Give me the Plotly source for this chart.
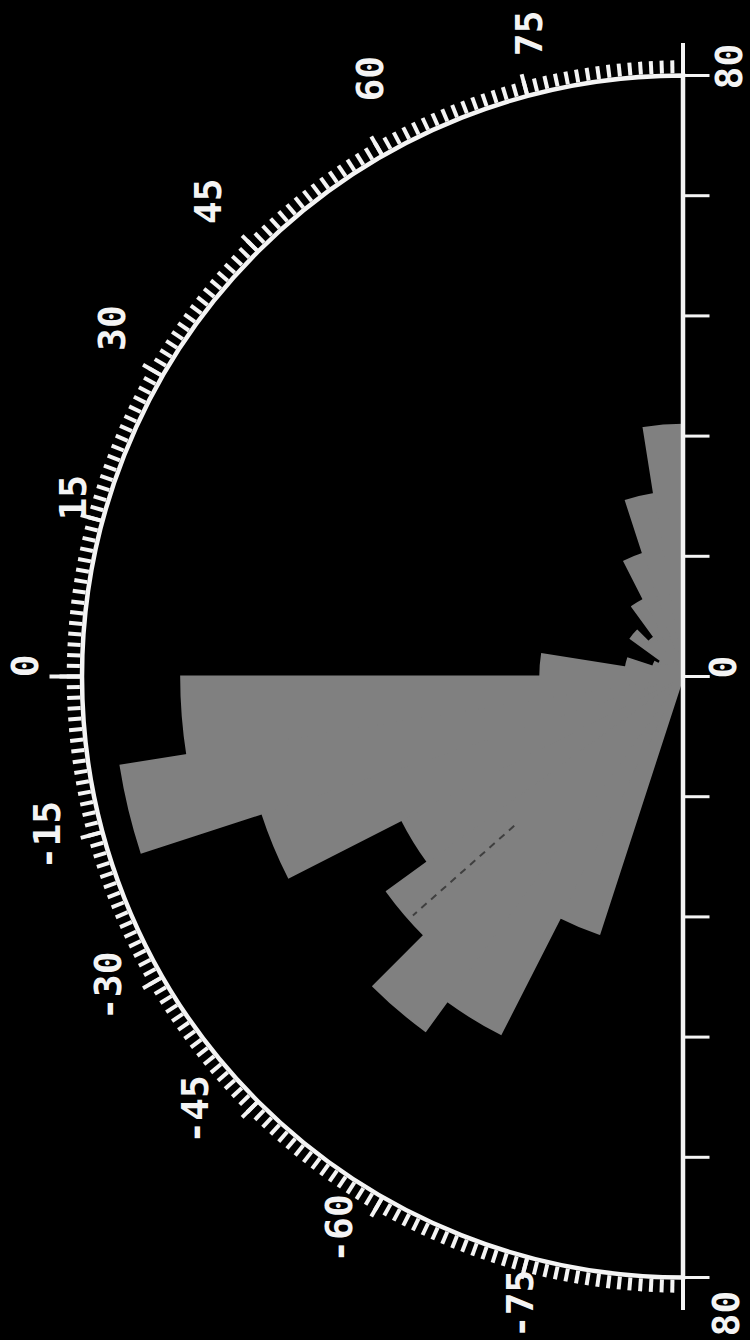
import math
import plotly.graph_objects as go

# ---- data -------------------------------------------------------------
# 9-degree direction bins from -90 to +90 (left edge of each bin)
bin_left = [-90, -81, -72, -63, -54, -45, -36, -27, -18, -9,
            0, 9, 18, 27, 36, 45, 54, 63, 72, 81]
bin_values = [0.0, 0.0, 36.0, 53.4, 58.3, 48.7, 42.0, 58.9, 75.8, 66.8,
              19.0, 7.7, 4.2, 3.6, 8.6, 6.5, 11.5, 17.2, 24.6, 33.5]
bin_width = 9

# mean direction marker (dashed ray inside the rose)
mean_direction = -41.5
mean_r_span = [30.0, 48.0]

# axis ticks
angle_labels = [75, 60, 45, 30, 15, 0, -15, -30, -45, -60, -75]
radial_ticks = [0, 16, 32, 48, 64, 80]
radial_max = 80

# ---- layout geometry & style -----------------------------------------
W, H = 750, 1340
CX, CY = 683.0, 676.5      # pixel centre of the half-rose
RPX = 601.0                # pixel radius of the outer arc
WHITE = "#f4f4f4"
GREY = "#808080"
FONT = dict(family="DejaVu Sans Mono", size=38, color=WHITE, weight=700)

# placement of the angular labels: distance from centre (px) and angle
label_rho = [662, 675, 672, 669, 636, 658, 655, 653, 652, 650, 648]
label_phi = [76.5, 62.4, 45.0, 31.4, 16.3, 0.9, -14.0, -28.3, -41.6, -58.1, -75.4]

dom_x = [(CX - RPX) / W, CX / W]
dom_y = [1 - (CY + RPX) / H, 1 - (CY - RPX) / H]


def to_paper(rho_px, theta_deg):
    """Chart angle (0 = left, positive = up) and pixel radius -> paper coords."""
    a = math.radians(180 - theta_deg)
    x = CX + rho_px * math.cos(a)
    y = CY - rho_px * math.sin(a)
    return x / W, 1 - y / H


theta_centres = [b + bin_width / 2 for b in bin_left]

fig = go.Figure()

fig.add_trace(go.Barpolar(
    r=bin_values, theta=theta_centres, width=[bin_width] * len(bin_values),
    marker=dict(color=GREY, line=dict(color=GREY, width=2)),
    subplot="polar", hoverinfo="skip",
))

fig.add_trace(go.Scatterpolar(
    r=mean_r_span, theta=[mean_direction, mean_direction], mode="lines",
    line=dict(color="#3f3f3f", width=2, dash="7px,6px"),
    subplot="polar", hoverinfo="skip",
))

# invisible anchors so the overlay subplots are rendered
for sp in ("polar2", "polar3"):
    fig.add_trace(go.Scatterpolar(
        r=[0], theta=[0], mode="markers", marker=dict(size=1, opacity=0),
        subplot=sp, hoverinfo="skip",
    ))

base = dict(domain=dict(x=dom_x, y=dom_y), sector=[90, 270],
            bgcolor="rgba(0,0,0,0)")


def ang_axis(step, length, line):
    return dict(rotation=180, direction="clockwise", showgrid=False,
                showline=line, linecolor=WHITE, linewidth=4.5,
                ticks="outside", tickmode="linear", tick0=0, dtick=step,
                ticklen=length, tickwidth=3.5, tickcolor=WHITE,
                showticklabels=False)


def rad_axis(angle, side, visible=True):
    return dict(visible=visible, range=[0, radial_max], angle=angle, side=side,
                showgrid=False, showline=True, linecolor=WHITE, linewidth=3,
                ticks="outside", tickmode="array", tickvals=radial_ticks,
                ticklen=25, tickwidth=3, tickcolor=WHITE,
                showticklabels=False)


fig.update_layout(
    width=W, height=H, margin=dict(l=0, r=0, t=0, b=0),
    paper_bgcolor="black", plot_bgcolor="black", showlegend=False,
    polar=dict(**base, angularaxis=ang_axis(1, 13, True),
               radialaxis=rad_axis(90, "clockwise")),
    polar2=dict(**base, angularaxis=ang_axis(15, 22, False),
                radialaxis=rad_axis(270, "counterclockwise")),
    polar3=dict(**base, angularaxis=ang_axis(90, 32, False),
                radialaxis=rad_axis(90, "clockwise", visible=False)),
)

annotations = []
# angular labels, rotated to read bottom-to-top
for t, rho, phi in zip(angle_labels, label_rho, label_phi):
    px, py = to_paper(rho, phi)
    annotations.append(dict(x=px, y=py, xref="paper", yref="paper",
                            text=str(t), showarrow=False, textangle=-90,
                            xanchor="center", yanchor="middle", font=FONT))

# radial labels: top end, centre, bottom end (offsets in px from the tick)
scale = RPX / radial_max
radial_label_specs = [
    ("80", CX + 46, CY - radial_max * scale - 9),
    ("0", CX + 39, CY - 9),
    ("80", CX + 42, CY + radial_max * scale + 36),
]
for txt, x, y in radial_label_specs:
    annotations.append(dict(x=x / W, y=1 - y / H, xref="paper", yref="paper",
                            text=txt, showarrow=False, textangle=-90,
                            xanchor="center", yanchor="middle", font=FONT))

fig.update_layout(annotations=annotations)
fig.write_html("out.html")
